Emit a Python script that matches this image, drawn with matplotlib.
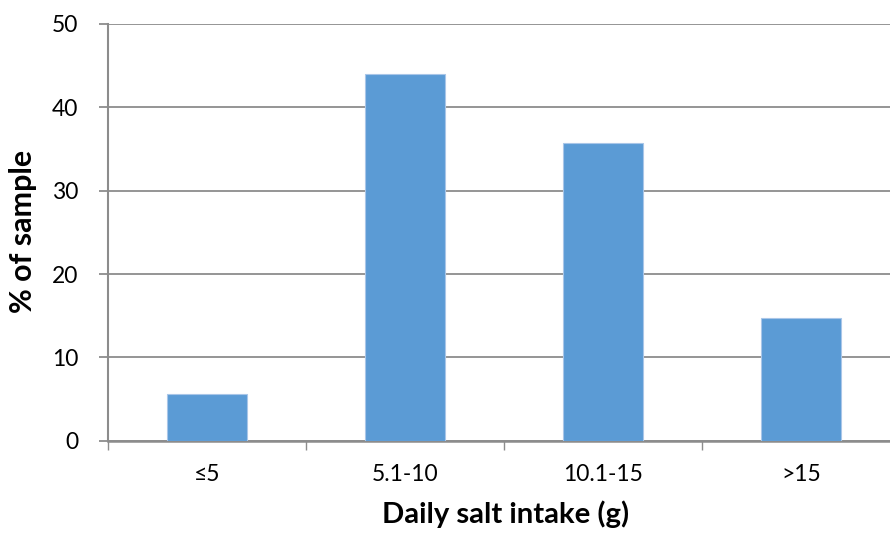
import matplotlib
matplotlib.use("Agg")
import matplotlib.pyplot as plt
from matplotlib.ticker import FixedLocator, NullFormatter

categories = ["≤5", "5.1-10", "10.1-15", ">15"]
values = [5.6, 44.0, 35.7, 14.7]
yticks = [0, 10, 20, 30, 40, 50]

plt.rcParams['font.family'] = ['Lato', 'DejaVu Sans']

W, H = 890, 533
fig = plt.figure(figsize=(W / 100, H / 100), dpi=100)
renderer = fig.canvas.get_renderer()


def fit_size(text, target_px, weight="normal", base=20.0):
    t = fig.text(0, 0, text, fontsize=base, fontweight=weight)
    w = t.get_window_extent(renderer).width
    t.remove()
    return base * target_px / w


tick_fs = fit_size("5.1-10", 67)
xlab_fs = fit_size("Daily salt intake (g)", 247, "bold")
ylab_fs = fit_size("% of sample", 163, "bold")

ax = fig.add_axes([108 / W, (H - 440.7) / H, (900 - 108) / W, (440.7 - 24) / H])

x = list(range(len(categories)))
ax.bar(x, values, width=0.4, color="#5B9BD5", edgecolor="#A9C6E8", linewidth=0.8, zorder=3)

ax.set_xlim(-0.5, len(categories) - 0.5)
ax.set_ylim(0, 50)
ax.set_yticks(yticks)
ax.set_xticks(x)
ax.set_xticklabels(categories)
ax.xaxis.set_minor_locator(FixedLocator([i - 0.5 for i in range(len(categories) + 1)]))
ax.xaxis.set_minor_formatter(NullFormatter())

grid_c = "#8C8C8C"
ax.yaxis.grid(True, color=grid_c, linewidth=1.3, zorder=0)
ax.set_axisbelow(True)
for s in ["top", "right"]:
    ax.spines[s].set_visible(False)
ax.spines["left"].set_color(grid_c)
ax.spines["left"].set_linewidth(1.5)
ax.spines["bottom"].set_color(grid_c)
ax.spines["bottom"].set_linewidth(1.8)

ax.tick_params(axis="y", length=6.5, width=1.3, color=grid_c, pad=15, labelsize=tick_fs, labelcolor="black")
ax.tick_params(axis="x", which="major", length=0, pad=17, labelsize=tick_fs, labelcolor="black")
ax.tick_params(axis="x", which="minor", length=6.5, width=1.0, color=grid_c)

ax.set_ylabel("% of sample", fontsize=ylab_fs, fontweight="bold", va="center")
ax.set_xlabel("Daily salt intake (g)", fontsize=xlab_fs, fontweight="bold", va="center")
ax.xaxis.set_label_coords((506 - 108) / (900 - 108), -(514 - 440.7) / (440.7 - 24))
ax.yaxis.set_label_coords(-(108 - 23) / (900 - 108), (440.7 - 231) / (440.7 - 24))

fig.savefig("out.png", dpi=100)
